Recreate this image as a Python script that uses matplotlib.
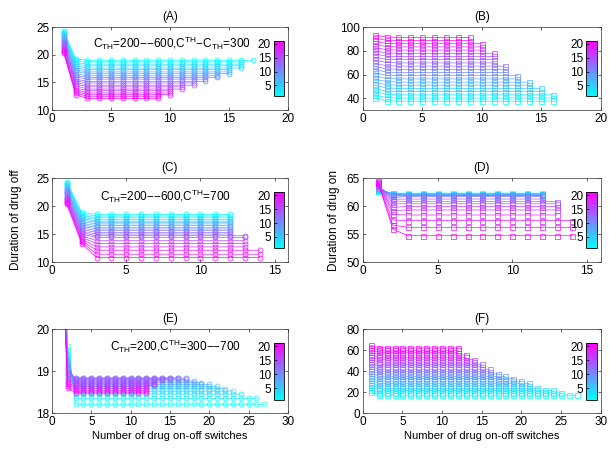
import numpy as np
import matplotlib
matplotlib.use("Agg")
from matplotlib import pyplot as plt
from matplotlib.colors import Normalize
from matplotlib.cm import ScalarMappable

plt.rcParams['font.family'] = ['Liberation Sans', 'DejaVu Sans']
plt.rcParams['font.size'] = 8.5
plt.rcParams['mathtext.fontset'] = 'custom'
plt.rcParams['mathtext.rm'] = 'Liberation Sans'
plt.rcParams['mathtext.it'] = 'Liberation Sans'

FS = 8.5

# series index 1..21 (colour scale)
series_idx = list(range(1, 22))

# panel A: duration of drug off, C_TH=200--600, C^TH-C_TH=300
a_first = [24.3, 24.1, 23.9, 23.7, 23.5, 23.3, 23.1, 22.9, 22.7, 22.5, 22.3,
           22.1, 21.9, 21.7, 21.5, 21.3, 21.1, 20.9, 20.7, 20.5, 20.3]
a_second = [19.3, 19.0, 18.6, 18.3, 18.0, 17.6, 17.3, 17.0, 16.6, 16.3, 16.0,
            15.6, 15.3, 15.0, 14.7, 14.4, 14.0, 13.7, 13.4, 13.1, 12.8]
a_plateau = [19.0, 18.7, 18.3, 18.0, 17.6, 17.3, 16.9, 16.6, 16.2, 15.9, 15.6,
             15.2, 14.9, 14.5, 14.2, 13.8, 13.5, 13.1, 12.8, 12.5, 12.1]
a_count = [17, 16, 16, 16, 16, 15, 15, 15, 14, 14, 13, 13, 12, 12, 11, 11, 10, 10, 10, 9, 9]

# panel B: duration of drug on
b_first = [40.3, 42.9, 45.6, 48.2, 50.9, 53.5, 56.2, 58.8, 61.5, 64.1, 66.8,
           69.4, 72.1, 74.7, 77.4, 80.0, 82.7, 85.3, 88.0, 90.6, 93.3]
b_second = [37.8, 40.5, 43.2, 45.9, 48.6, 51.3, 54.0, 56.6, 59.3, 62.0, 64.7,
            67.4, 70.1, 72.8, 75.5, 78.2, 80.9, 83.6, 86.2, 88.9, 91.6]
b_plateau = [37.5, 40.2, 42.9, 45.6, 48.3, 51.0, 53.6, 56.3, 59.0, 61.7, 64.4,
             67.1, 69.8, 72.5, 75.2, 77.9, 80.6, 83.3, 86.0, 88.6, 91.3]
b_count = [16, 16, 16, 15, 15, 14, 14, 13, 13, 12, 12, 12, 11, 11, 11, 11, 10, 10, 10, 9, 9]

# panel C: duration of drug off, C_TH=200--600, C^TH=700
c_first = [24.3, 24.1, 23.9, 23.7, 23.5, 23.3, 23.1, 22.9, 22.7, 22.5, 22.3,
           22.1, 21.9, 21.7, 21.5, 21.3, 21.1, 20.9, 20.7, 20.5, 20.3]
c_second = [18.9, 18.6, 18.3, 18.0, 17.8, 17.5, 17.2, 16.9, 16.6, 16.4, 16.1,
            15.8, 15.5, 15.2, 15.0, 14.7, 14.4, 14.1, 13.8, 13.6, 13.3]
c_plateau = [18.5, 18.2, 17.9, 17.6, 17.3, 17.1, 16.8, 16.5, 16.2, 15.9, 15.6,
             15.3, 15.0, 14.7, 14.4, 13.8, 13.3, 12.7, 12.1, 11.4, 10.8]
c_count = [12, 12, 12, 12, 12, 12, 12, 12, 12, 12, 12, 12, 12, 13, 13, 13, 13, 13, 14, 14, 14]

# panel D: duration of drug on
d_first = [62.6, 62.7, 62.8, 62.9, 63.0, 63.0, 63.1, 63.2, 63.3, 63.4, 63.5,
           63.6, 63.7, 63.8, 63.8, 63.9, 64.0, 64.1, 64.2, 64.3, 64.4]
d_second = [62.3, 62.3, 62.2, 62.2, 62.2, 62.1, 62.1, 62.0, 62.0, 61.9, 61.8,
            61.5, 61.2, 60.9, 60.4, 59.8, 59.2, 58.5, 57.5, 56.6, 55.9]
d_plateau = [62.3, 62.2, 62.2, 62.1, 62.1, 62.0, 62.0, 62.0, 61.9, 61.9, 61.8,
             61.7, 61.25, 60.8, 60.4, 59.9, 59.3, 58.4, 57.4, 56.2, 54.7]
d_count = [12, 12, 12, 12, 12, 12, 12, 12, 12, 12, 12, 12, 12, 13, 13, 13, 13, 13, 14, 14, 14]

# panel E: duration of drug off, C_TH=200, C^TH=300--700
e_first = [24.0, 23.95, 23.9, 23.85, 23.8, 23.75, 23.7, 23.65, 23.6, 23.55, 23.5,
           23.45, 23.4, 23.35, 23.3, 23.25, 23.2, 23.15, 23.1, 23.05, 23.0]
e_second = [19.6, 19.5, 19.4, 19.35, 19.3, 19.25, 19.2, 19.15, 19.1, 19.05, 19.0,
            18.97, 18.94, 18.9, 18.86, 18.82, 18.78, 18.74, 18.7, 18.65, 18.6]
e_plateau = [18.22, 18.36, 18.46, 18.53, 18.59, 18.64, 18.69, 18.73, 18.77, 18.81, 18.84,
             18.84, 18.82, 18.79, 18.75, 18.71, 18.67, 18.63, 18.59, 18.54, 18.49]
e_count = [27, 26, 24, 23, 22, 21, 20, 19, 18, 17, 17, 16, 15, 14, 13, 13, 13, 12, 12, 12, 12]

# panel F: duration of drug on
f_first = [20.5, 22.7, 24.9, 27.1, 29.3, 31.5, 33.7, 35.9, 38.1, 40.3, 42.5,
           44.7, 46.9, 49.1, 51.3, 53.5, 55.7, 57.9, 60.1, 62.3, 64.5]
f_second = [17.6, 19.8, 22.1, 24.3, 26.6, 28.8, 31.0, 33.3, 35.5, 37.8, 40.0,
            42.2, 44.5, 46.7, 49.0, 51.2, 53.4, 55.7, 57.9, 60.2, 62.4]
f_plateau = [17.3, 19.5, 21.8, 24.0, 26.3, 28.5, 30.7, 33.0, 35.2, 37.5, 39.7,
             41.9, 44.2, 46.4, 48.7, 50.9, 53.1, 55.4, 57.6, 59.9, 62.1]
f_count = [27, 25, 24, 22, 21, 21, 20, 19, 18, 17, 16, 16, 15, 15, 14, 14, 13, 13, 12, 12, 12]

norm = Normalize(vmin=1, vmax=21)
cmap = plt.cm.cool


def plot_panel(ax, first, second, plateau, count, marker):
    for k, y1, y2, yp, n in zip(series_idx, first, second, plateau, count):
        x = np.arange(1, n + 1)
        y = np.r_[y1, y2, [yp] * (n - 2)]
        c = cmap(norm(k))
        ax.plot(x, y, '-', color=c, lw=0.5, marker=marker, ms=3.6,
                mfc='none', mec=c, mew=0.5)


def style_axes(ax, xlim, xticks, ylim, yticks, title):
    ax.set_xlim(*xlim)
    ax.set_ylim(*ylim)
    ax.set_xticks(xticks)
    ax.set_yticks(yticks)
    ax.tick_params(direction='in', length=2.5, width=0.5, top=True, right=True,
                   labelsize=FS, pad=2, colors='#222222', labelcolor='black')
    for s in ax.spines.values():
        s.set_linewidth(0.5)
        s.set_color('#333333')
    ax.set_title(title, fontsize=FS, pad=5)
    # colorbar inside the axes
    cax = ax.inset_axes([0.94, 0.165, 0.043, 0.665])
    cb = plt.colorbar(ScalarMappable(norm=norm, cmap=cmap), cax=cax)
    cb.set_ticks([5, 10, 15, 20])
    cax.yaxis.set_ticks_position('left')
    cax.yaxis.set_label_position('left')
    cax.tick_params(direction='in', length=2, width=0.5, labelsize=FS, pad=2)
    cb.outline.set_linewidth(0.6)


fig = plt.figure(figsize=(6.16, 4.53), dpi=100)
left_x, right_x = 0.0844, 0.589
w_left, w_right = 0.383, 0.386
rows = [(0.757, 0.1832), (0.4216, 0.1854), (0.0872, 0.1865)]

axA = fig.add_axes([left_x, rows[0][0], w_left, rows[0][1]])
axB = fig.add_axes([right_x, rows[0][0], w_right, rows[0][1]])
axC = fig.add_axes([left_x, rows[1][0], w_left, rows[1][1]])
axD = fig.add_axes([right_x, rows[1][0], w_right, rows[1][1]])
axE = fig.add_axes([left_x, rows[2][0], w_left, rows[2][1]])
axF = fig.add_axes([right_x, rows[2][0], w_right, rows[2][1]])

plot_panel(axA, a_first, a_second, a_plateau, a_count, 'o')
style_axes(axA, (0, 20), [0, 5, 10, 15, 20], (10, 25), [10, 15, 20, 25], '(A)')
axA.text(3.45, 22.05, 'C$_{TH}$=200\u2212\u2212600,C$^{TH}$\u2212C$_{TH}$=300',
         fontsize=FS, ha='left', va='center')

plot_panel(axB, b_first, b_second, b_plateau, b_count, 's')
style_axes(axB, (0, 20), [0, 5, 10, 15, 20], (30, 100), [40, 60, 80, 100], '(B)')

plot_panel(axC, c_first, c_second, c_plateau, c_count, 'o')
style_axes(axC, (0, 15.9), [0, 5, 10, 15], (10, 25), [10, 15, 20, 25], '(C)')
axC.text(3.25, 21.8, 'C$_{TH}$=200\u2212\u2212600,C$^{TH}$=700', fontsize=FS,
         ha='left', va='center')
axC.set_ylabel('Duration of drug off', fontsize=FS, labelpad=10)

plot_panel(axD, d_first, d_second, d_plateau, d_count, 's')
style_axes(axD, (0, 15.9), [0, 5, 10, 15], (50, 65), [50, 55, 60, 65], '(D)')
axD.set_ylabel('Duration of drug on', fontsize=FS, labelpad=5)

plot_panel(axE, e_first, e_second, e_plateau, e_count, 'o')
style_axes(axE, (0, 30), [0, 5, 10, 15, 20, 25, 30], (18, 20), [18, 19, 20], '(E)')
axE.text(7.4, 19.59, 'C$_{TH}$=200,C$^{TH}$=300\u2212\u2212700', fontsize=FS,
         ha='left', va='center')
axE.set_xlabel('Number of drug on-off switches', fontsize=8.0, labelpad=2)

plot_panel(axF, f_first, f_second, f_plateau, f_count, 's')
style_axes(axF, (0, 30), [0, 5, 10, 15, 20, 25, 30], (0, 80), [0, 20, 40, 60, 80], '(F)')
axF.set_xlabel('Number of drug on-off switches', fontsize=8.0, labelpad=2)

fig.savefig('out.png', dpi=100)
